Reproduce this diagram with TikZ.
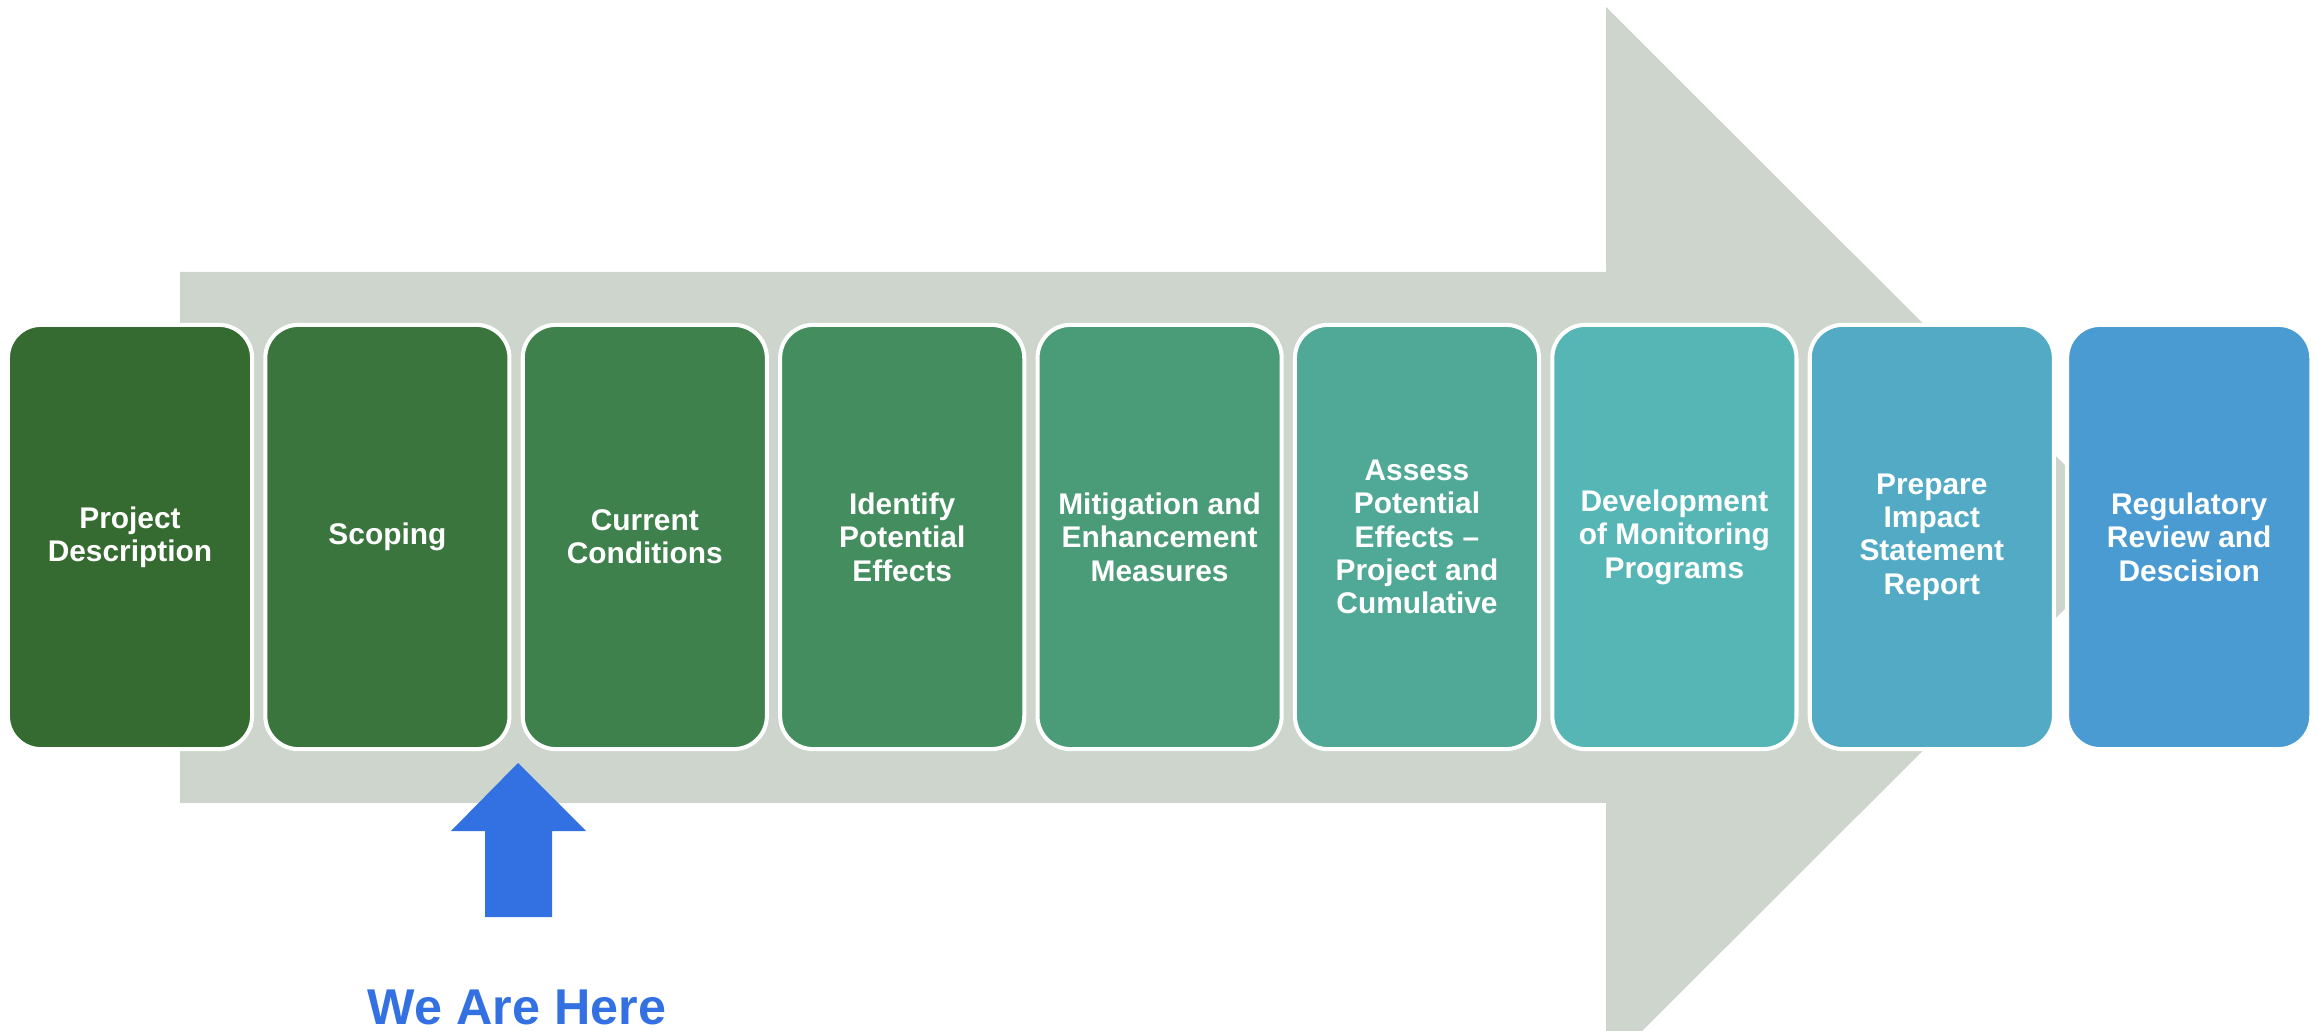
\documentclass[tikz,border=0pt]{standalone}
\usepackage{fontspec}
\setmainfont{Liberation Sans}
\definecolor{band}{HTML}{CDD5CC}
\definecolor{here}{HTML}{3371E3}
\definecolor{s1}{HTML}{356A30}
\definecolor{s2}{HTML}{3A753D}
\definecolor{s3}{HTML}{3E814C}
\definecolor{s4}{HTML}{438D5F}
\definecolor{s5}{HTML}{4A9B78}
\definecolor{s6}{HTML}{50A896}
\definecolor{s7}{HTML}{56B6B6}
\definecolor{s8}{HTML}{52AAC4}
\definecolor{s9}{HTML}{4A9BD2}

\begin{document}
\begin{tikzpicture}[x=0.01cm,y=-0.01cm,node distance=2.5725cm,
    stage/.style={rectangle,rounded corners=0.33cm,draw=white,line width=1.15pt,
        minimum width=2.44cm,minimum height=4.24cm,inner sep=0pt,align=center,
        text=white,font=\bfseries\fontsize{8.5}{9.5}\selectfont},
    pointer/.style={fill=here},
    tag/.style={text=here,font=\bfseries\fontsize{14.3}{16}\selectfont,inner sep=0pt}]
    \useasboundingbox (0,0) rectangle (2318,1031);
    \clip (0,0) rectangle (2318,1031);
    % big arrow behind the steps
    \fill[band] (180,272) -- (1606,272) -- (1606,7) -- (2137,537) -- (1606,1067)
        -- (1606,803) -- (180,803) -- cycle;
    \node[stage,fill=s1] (1) at (130,537) {Project\\Description};
    \node[stage,fill=s2] (2) [right of=1] {Scoping};
    \node[stage,fill=s3] (3) [right of=2] {Current\\Conditions};
    \node[stage,fill=s4] (4) [right of=3] {Identify\\Potential\\Effects};
    \node[stage,fill=s5] (5) [right of=4] {Mitigation and\\Enhancement\\Measures};
    \node[stage,fill=s6] (6) [right of=5] {Assess\\Potential\\Effects --\\Project and\\Cumulative};
    \node[stage,fill=s7] (7) [right of=6] {Development\\of Monitoring\\Programs};
    \node[stage,fill=s8] (8) [right of=7] {Prepare\\Impact\\Statement\\Report};
    \node[stage,fill=s9] (9) [right of=8] {Regulatory\\Review and\\Descision};
    % we are here
    \fill[pointer] (518,763) -- (586,831) -- (552,831) -- (552,917) -- (485,917)
        -- (485,831) -- (451,831) -- cycle;
    \node[tag,anchor=base] (now) at (517,1024) {We Are Here};
\end{tikzpicture}
\end{document}
